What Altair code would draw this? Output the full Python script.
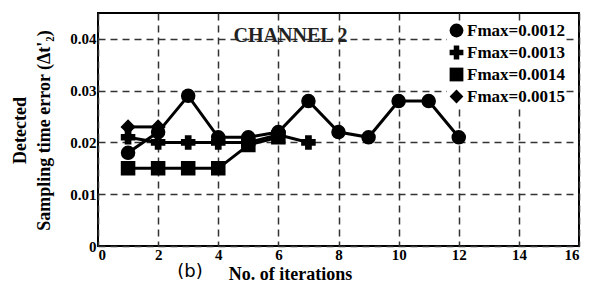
import altair as alt
import pandas as pd

series_names = ["Fmax=0.0012", "Fmax=0.0013", "Fmax=0.0014", "Fmax=0.0015"]
shapes = ["circle", "cross", "square", "diamond"]

x_0012 = [1, 2, 3, 4, 5, 6, 7, 8, 9, 10, 11, 12]
y_0012 = [0.018, 0.022, 0.029, 0.021, 0.021, 0.022, 0.028, 0.022, 0.021, 0.028, 0.028, 0.021]
x_0013 = [1, 2, 3, 4, 5, 6, 7]
y_0013 = [0.021, 0.020, 0.020, 0.020, 0.020, 0.0215, 0.020]
x_0014 = [1, 2, 3, 4, 5, 6]
y_0014 = [0.015, 0.015, 0.015, 0.015, 0.0195, 0.021]
x_0015 = [1, 2]
y_0015 = [0.023, 0.023]

x_ticks = [0, 2, 4, 6, 8, 10, 12, 14, 16]
y_ticks = [0, 0.01, 0.02, 0.03, 0.04]

rows = []
for name, xs, ys in zip(series_names, [x_0012, x_0013, x_0014, x_0015],
                        [y_0012, y_0013, y_0014, y_0015]):
    for xv, yv in zip(xs, ys):
        rows.append({"series": name, "x": xv, "y": yv})
df = pd.DataFrame(rows)

FONT = "Liberation Serif"

x_enc = alt.X("x:Q", scale=alt.Scale(domain=[0, 16], nice=False),
              axis=alt.Axis(values=x_ticks, title="No. of iterations",
                            labelPadding=1,
                            titleX=192, titleY=28, titleBaseline="middle",
                            titleFontSize=18, titleFont=FONT, titleFontWeight="bold",
                            titleColor="black"))
y_enc = alt.Y("y:Q", scale=alt.Scale(domain=[0, 0.045], nice=False),
              axis=alt.Axis(values=y_ticks,
                            labelExpr="datum.value == 0 ? '0' : format(datum.value, '.2f')",
                            title=["Detected", "Sampling time error (Δt'₂)"],
                            titleAngle=270, titleX=-87, titleY=117,
                            titleBaseline="top", titleAlign="center",
                            titleLineHeight=24, titleFontSize=18, titleFont=FONT,
                            titleFontWeight="bold", titleColor="black"))

base = alt.Chart(df)

lines = base.mark_line(color="black", strokeWidth=3).encode(
    x=x_enc, y=y_enc, detail="series:N", order="x:Q")

points = base.mark_point(filled=True, color="black", size=170, opacity=1,
                         stroke="black", strokeWidth=1.5).encode(
    x="x:Q", y="y:Q",
    shape=alt.Shape("series:N", scale=alt.Scale(domain=series_names, range=shapes),
                    legend=alt.Legend(title=None, orient="none", legendX=349,
                                      legendY=8, symbolSize=190,
                                      symbolFillColor="black", symbolStrokeColor="black",
                                      labelFont=FONT, labelFontSize=17,
                                      labelFontWeight="bold", labelColor="black",
                                      rowPadding=1, labelOffset=2,
                                      fillColor="white", padding=1)))

caption = alt.Chart(pd.DataFrame({"t": ["(b)"]})).mark_text(
    font="DejaVu Sans", fontSize=18, color="black", align="center",
    baseline="middle").encode(x=alt.value(92), y=alt.value(259), text="t:N")

chart = alt.layer(lines, points, caption).properties(
    width=481, height=233,
    autosize=alt.AutoSizeParams(type="none"),
    padding={"left": 90, "top": 5, "right": 4, "bottom": 36},
    title=alt.TitleParams("CHANNEL  2", font=FONT, fontSize=20, fontWeight="bold",
                          color="#222", anchor="middle", dx=-48, dy=37, orient="top")
).configure_view(stroke="black", strokeWidth=2).configure_axis(
    grid=True, gridDash=[7, 5], gridColor="#333", gridWidth=1.5,
    domain=False, ticks=False,
    labelFont=FONT, labelFontSize=15, labelFontWeight="bold", labelColor="black"
)

chart.save("out.html", embed_options={"renderer": "svg", "actions": False})
